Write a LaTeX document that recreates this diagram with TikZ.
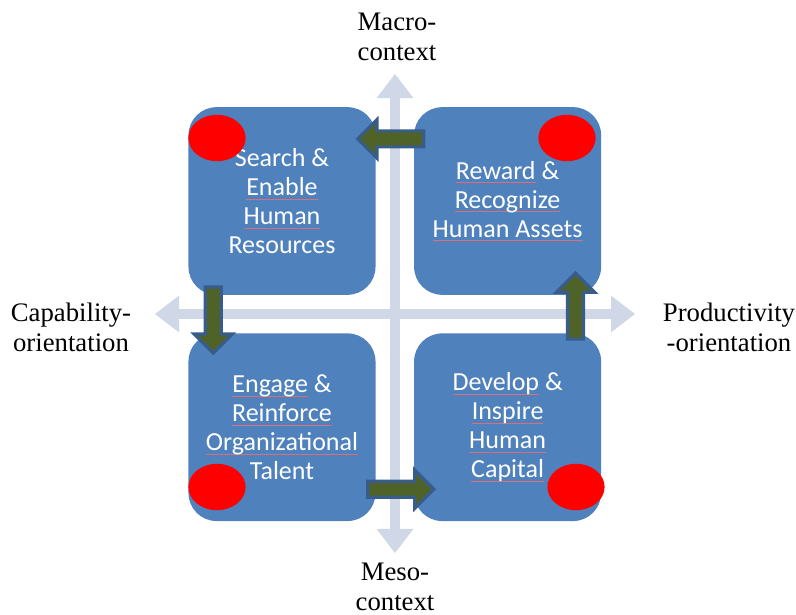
\documentclass[tikz,border=0pt]{standalone}
\usepackage{fontspec}
\setmainfont{Liberation Serif}
\newfontfamily\boxfont{Carlito}
\usetikzlibrary{shapes.geometric,shapes.arrows,arrows.meta,positioning,calc}
\definecolor{boxblue}{HTML}{4F81BD}
\definecolor{axisgrey}{HTML}{D0D8E8}
\definecolor{flowfill}{HTML}{4F6228}
\definecolor{flowedge}{HTML}{385D8A}
\definecolor{spellred}{HTML}{D8707C}
% spell-check mark under a word
\newsavebox\spellbox
\newcommand\spell[1]{\sbox\spellbox{#1}\rlap{\textcolor{spellred}{\rule[-0.3ex]{\wd\spellbox}{0.35pt}}}\usebox\spellbox}

\begin{document}
\begin{tikzpicture}[
    x=0.025cm, y=-0.025cm,
    node distance=0.95cm,
    box/.style={fill=boxblue,rounded corners=0.7cm,minimum width=4.675cm,minimum height=4.69cm,align=center,text=white,font=\boxfont\fontsize{18.5}{20.6}\selectfont},
    axis/.style={draw=axisgrey,line width=0.25cm,>={Triangle[length=0.6cm,width=0.92cm,line width=0pt]},<->},
    axislabel/.style={align=center,font=\fontsize{19}{21.5}\selectfont},
    flow/.style={single arrow,draw=flowedge,fill=flowfill,line width=0.08cm,inner sep=0.16cm,single arrow head extend=0.28cm,minimum height=1.65cm},
    dot/.style={ellipse,fill=red,minimum width=1.43cm,minimum height=1.16cm,inner sep=0pt}
  ]
    \useasboundingbox (0,0) rectangle (796,615);

    % the two context axes
    \coordinate (top) at (395,74);
    \coordinate (bottom) at (395,553);
    \coordinate (left) at (155,314);
    \coordinate (right) at (635,314);
    \draw[axis] (bottom) -- (top);
    \draw[axis] (left) -- (right);

    \node[axislabel] (macro) at (397,37) {Macro-\\context};
    \node[axislabel] (meso) at (395,587) {Meso-\\context};
    \node[axislabel] (capab) at (71,327) {Capability-\\orientation};
    \node[axislabel] (produc) at (729,327) {Productivity\\-orientation};

    % quadrants
    \node[box] (search) at (282,201) {Search \&\\\spell{Enable}\\\spell{Human}\\Resources};
    \node[box,right=of search] (reward) {\spell{Reward} \&\\\spell{Recognize}\\\spell{Human Assets}};
    \node[box,below=of search] (engage) {\spell{Engage} \&\\\spell{Reinforce}\\\spell{Organizational}\\Talent};
    \node[box,below=of reward] (develop) {\spell{Develop} \&\\\spell{Inspire}\\\spell{Human}\\\spell{Capital}};

    % cycle between the quadrants
    \node[flow,shape border rotate=180] (f1) at ($(search.north east)!.5!(reward.north west)+(0,32)$) {};
    \node[flow,shape border rotate=270] (f2) at ($(search.south west)!.5!(engage.north west)+(25,2)$) {};
    \node[flow] (f3) at ($(engage.south east)!.5!(develop.south west)+(2,-32)$) {};
    \node[flow,shape border rotate=90] (f4) at ($(develop.north east)!.5!(reward.south east)+(-26,-4)$) {};

    \node[dot] (d1) at (217,138) {};
    \node[dot] (d2) at (567,138) {};
    \node[dot] (d3) at (217,487) {};
    \node[dot] (d4) at (576,487) {};
  \end{tikzpicture}
\end{document}
